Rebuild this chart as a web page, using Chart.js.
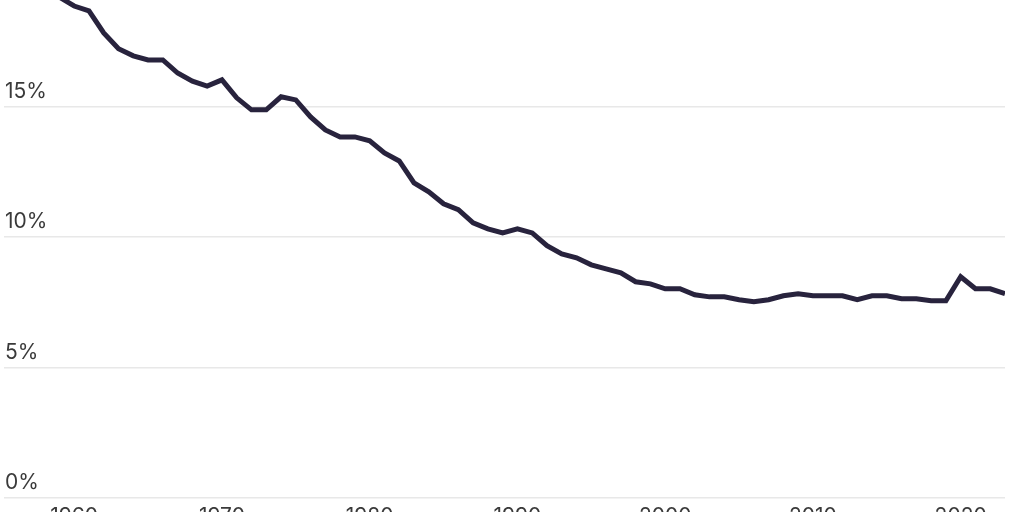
<!DOCTYPE html>
<html>
<head>
<meta charset="utf-8">
<script src="https://cdn.jsdelivr.net/npm/chart.js@4"></script>
<style>
  html, body { margin: 0; padding: 0; background: #fff; overflow: hidden; }
  #wrap { position: relative; width: 1024px; height: 512px; }
</style>
</head>
<body>
<div id="wrap"><canvas id="rateChart"></canvas></div>
<script>
// years and values (percent)
const years = [1959, 1960, 1961, 1962, 1963, 1964, 1965, 1966, 1967, 1968, 1969,
    1970, 1971, 1972, 1973, 1974, 1975, 1976, 1977, 1978, 1979,
    1980, 1981, 1982, 1983, 1984, 1985, 1986, 1987, 1988, 1989,
    1990, 1991, 1992, 1993, 1994, 1995, 1996, 1997, 1998, 1999,
    2000, 2001, 2002, 2003, 2004, 2005, 2006, 2007, 2008, 2009,
    2010, 2011, 2012, 2013, 2014, 2015, 2016, 2017, 2018, 2019,
    2020, 2021, 2022, 2023];
const rates = [19.2, 18.86, 18.67, 17.83, 17.22, 16.95, 16.79, 16.79, 16.29, 15.98, 15.79,
    16.03, 15.34, 14.88, 14.88, 15.38, 15.26, 14.61, 14.11, 13.84, 13.84,
    13.69, 13.23, 12.92, 12.08, 11.74, 11.28, 11.05, 10.55, 10.32, 10.16,
    10.32, 10.16, 9.67, 9.36, 9.21, 8.94, 8.78, 8.63, 8.29, 8.21,
    8.02, 8.02, 7.79, 7.71, 7.71, 7.60, 7.52, 7.60, 7.75, 7.83,
    7.75, 7.75, 7.75, 7.60, 7.75, 7.75, 7.64, 7.64, 7.56, 7.56,
    8.48, 8.02, 8.02, 7.83];
const yTicks = [0, 5, 10, 15];
const xTicks = [1960, 1970, 1980, 1990, 2000, 2010, 2020];

document.addEventListener('DOMContentLoaded', function() {
    const ctx = document.getElementById('rateChart').getContext('2d');
    const tickFont = { family: 'Inter', size: 21, weight: '400' };

    // drop the label padding chart.js reserves, so the plot fills the frame
    const noPad = s => {
        s.paddingTop = 0; s.paddingBottom = 0;
        s.paddingLeft = 0; s.paddingRight = 0;
    };

    new Chart(ctx, {
        type: 'line',
        data: {
            datasets: [{
                data: years.map((y, i) => ({ x: y, y: rates[i] })),
                borderColor: '#28233d',
                borderWidth: 5,
                pointRadius: 0,
                tension: 0,
                fill: false
            }]
        },
        options: {
            responsive: true,
            maintainAspectRatio: false,
            animation: false,
            layout: { padding: { left: 4, right: 19, top: 0, bottom: 0 } },
            plugins: {
                legend: { display: false },
                tooltip: { enabled: false }
            },
            scales: {
                x: {
                    type: 'linear',
                    min: 1955.25,
                    max: 2023,
                    afterBuildTicks: s => { s.ticks = xTicks.map(v => ({ value: v })); },
                    afterFit: s => { s.height = 14; noPad(s); },
                    grid: { display: false, drawTicks: false },
                    border: { display: false },
                    ticks: {
                        font: tickFont,
                        color: '#3a3a3a',
                        padding: 6,
                        maxRotation: 0,
                        autoSkip: false,
                        callback: v => String(v)
                    }
                },
                y: {
                    min: 0,
                    max: 19.09,
                    afterBuildTicks: s => { s.ticks = yTicks.map(v => ({ value: v })); },
                    afterFit: s => { s.width = 0; noPad(s); },
                    grid: { color: '#e8e8e8', lineWidth: 1.5, drawTicks: false },
                    border: { display: false },
                    ticks: {
                        mirror: true,
                        padding: 1,
                        labelOffset: -15,
                        font: tickFont,
                        color: '#3a3a3a',
                        callback: v => v + '%'
                    }
                }
            }
        }
    });
});
</script>
</body>
</html>
